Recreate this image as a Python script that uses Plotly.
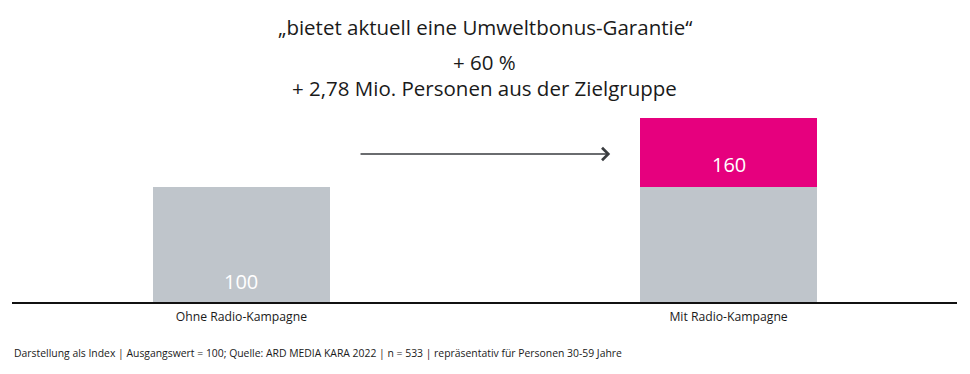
import plotly.graph_objects as go

categories = ["Ohne Radio-Kampagne", "Mit Radio-Kampagne"]
base_values = [100, 100]
uplift_values = [0, 60]
totals = [b + u for b, u in zip(base_values, uplift_values)]

title_line = "„bietet aktuell eine Umweltbonus-Garantie“"
sub_line1 = "+ 60 %"
sub_line2 = "+ 2,78 Mio. Personen aus der Zielgruppe"
footnote = "Darstellung als Index | Ausgangswert = 100; Quelle: ARD MEDIA KARA 2022 | n = 533 | repräsentativ für Personen 30-59 Jahre"

GRAY = "#bfc5cb"
PINK = "#e6007e"
FONT = "Open Sans, Liberation Sans, sans-serif"

# page offset of the figure (default body margin)
OFF = 8
W, H = 970 - OFF, 374 - OFF
# plot area geometry in page pixels
PL, PR, PT, PB = 12, 957, 110, 302


def px_x(xp):
    return (xp - PL) / (PR - PL)


def px_y(yp):
    return (PB - yp) / (PB - PT)


xpos = list(range(len(categories)))
bw = 0.3634

fig = go.Figure()
fig.add_trace(go.Bar(
    x=xpos, y=base_values, width=bw, marker=dict(color=GRAY, line=dict(width=0)),
    hoverinfo="skip",
))
fig.add_trace(go.Bar(
    x=xpos, y=uplift_values, width=bw, marker=dict(color=PINK, line=dict(width=0)),
    hoverinfo="skip",
))

# value labels
fig.add_annotation(
    x=xpos[0], y=0, xref="x", yref="y", text=str(totals[0]), showarrow=False,
    yanchor="middle", yshift=21, font=dict(color="white", size=20, family=FONT),
)
fig.add_annotation(
    x=xpos[1], y=totals[1], xref="x", yref="y", text=str(totals[1]), showarrow=False,
    yanchor="middle", yshift=-46, font=dict(color="white", size=20, family=FONT),
)

# arrow between bars
fig.add_annotation(
    x=0.757, y=128.7, ax=0.2414, ay=128.7, xref="x", yref="y", axref="x", ayref="y",
    text="", showarrow=True, arrowhead=4, arrowsize=1.5, arrowwidth=1.6, arrowcolor="#3a3d40",
)

for txt, ypx, size in [(title_line, 27, 20.5), (sub_line1, 62, 20.5), (sub_line2, 88, 20.5)]:
    fig.add_annotation(
        text=txt, x=px_x(485), xref="paper", xanchor="center",
        y=px_y(ypx), yref="paper", yanchor="middle",
        showarrow=False, font=dict(size=size, color="#1a1a1a", family=FONT),
    )

fig.add_annotation(
    text=footnote, x=px_x(12), xref="paper", xanchor="left",
    y=px_y(353), yref="paper", yanchor="middle",
    showarrow=False, font=dict(size=10.4, color="#1a1a1a", family=FONT),
)

fig.update_layout(
    width=W, height=H,
    margin=dict(l=PL - OFF, r=970 - PR, t=PT - OFF, b=374 - PB),
    paper_bgcolor="white", plot_bgcolor="white",
    barmode="stack", showlegend=False, bargap=0,
    font=dict(family=FONT, color="#1a1a1a"),
)
fig.update_xaxes(
    range=[-0.471, 1.469], tickvals=xpos, ticktext=categories,
    showline=True, linecolor="#111111", linewidth=2, showgrid=False, zeroline=False,
    ticks="", tickfont=dict(size=12.2, color="#1a1a1a", family=FONT), ticklabelstandoff=2,
)
fig.update_yaxes(range=[0, 167], visible=False, showgrid=False, zeroline=False)

fig.write_html("out.html")
